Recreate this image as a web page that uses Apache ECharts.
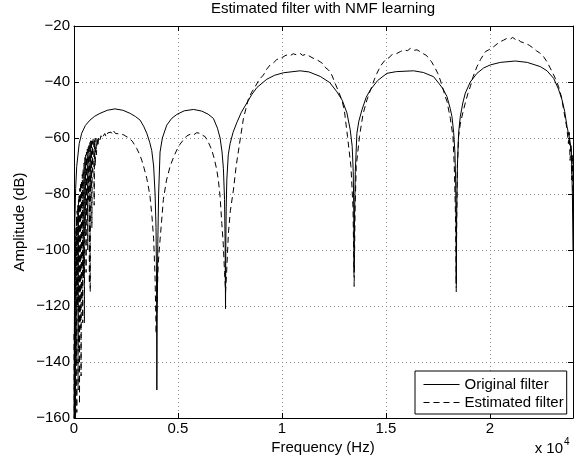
<!DOCTYPE html>
<html>
<head>
<meta charset="utf-8">
<script src="https://cdn.jsdelivr.net/npm/echarts@6/dist/echarts.min.js"></script>
<style>
html,body{margin:0;padding:0;background:#fff;}
#chart{width:585px;height:463px;}
</style>
</head>
<body>
<div id="chart"></div>
<script>
// ---- Data (frequency in Hz, amplitude in dB) ----
const titleText = "Estimated filter with NMF learning";
const xTicks = [0, 5000, 10000, 15000, 20000];
const yTicks = [-160, -140, -120, -100, -80, -60, -40, -20];
const seriesNames = ["Original filter", "Estimated filter"];

const originalFilter = [
[0,-160],[40,-90],[80,-78],[130,-70.2],[250,-62],[371,-58.3],[550,-55.5],[770,-53.6],[1000,-52.2],[1251,-51.2],[1600,-50.1],[1973,-49.6],[2350,-50.1],[2700,-51.2],[2950,-52.3],[3177,-53.6],[3350,-55.8],[3499,-58.3],[3640,-61.5],[3740,-64.5],[3830,-70],[3900,-80],[3945,-92],[3970,-110],[3984,-150],
[4000,-125],[4030,-98],[4070,-80],[4139,-65],[4250,-60],[4462,-55.4],[4700,-53],[4943,-51.6],[5300,-50.3],[5750,-49.8],[6150,-50.4],[6450,-51.5],[6705,-53],[6900,-56.5],[7027,-60],[7120,-65],[7186,-71],[7240,-82],[7270,-98],[7288,-121],
[7300,-100],[7320,-85],[7350,-75],[7420,-66],[7508,-62],[7650,-58],[7831,-54.5],[8050,-50.8],[8312,-47.5],[8550,-44.5],[8793,-42],[9275,-39],[9650,-37.6],[10074,-36.7],[10877,-36],[11300,-36.4],[11840,-38],[12300,-40.2],[12644,-43.5],[12900,-46.5],[13125,-51],[13284,-57],[13380,-63],[13430,-72],[13455,-85],[13472,-108],
[13490,-90],[13530,-72],[13606,-58.3],[13700,-54],[13847,-50],[14050,-45.5],[14246,-42.9],[14600,-39.5],[15050,-36.9],[15500,-36.3],[16330,-36],[16800,-36.6],[17293,-38.1],[17550,-40.5],[17750,-42.5],[17938,-45.2],[18096,-49.5],[18179,-52.4],[18260,-58],[18320,-65],[18355,-75],[18375,-90],[18385,-112],
[18400,-90],[18440,-70],[18500,-58],[18578,-52.4],[18700,-47.5],[18819,-44],[19059,-40],[19382,-36.9],[19699,-35],[20022,-33.9],[20503,-33],[21225,-32.5],[21800,-33],[22428,-34.5],[22750,-36],[23069,-38.7],[23300,-42.5],[23473,-46.4],[23600,-50.5],[23714,-56],[23830,-60],[23921,-64.3],[23970,-80],[24000,-100]
];

const estimatedFilter = [
[0,-130],[15,-160],[30,-100],[45,-155],[60,-95],[75,-160],[90,-92],[105,-140],[120,-88],[135,-158],[150,-86],[165,-120],[180,-84],[200,-150],[215,-82],[230,-135],[250,-80],[265,-155],[280,-78],[300,-128],[320,-76],[340,-145],[360,-75],[380,-118],[400,-73],[420,-126],[440,-71],[460,-110],[480,-69],[500,-126],[520,-67],[540,-95],[560,-66],[580,-108],[600,-65],[620,-88],[640,-64],[660,-100],[680,-63],[700,-82],[720,-62],[740,-112],[760,-61.5],[780,-115],[800,-61],[820,-78],[840,-60.5],[860,-92],[880,-61],[900,-72],[920,-60],[950,-61],[970,-84],[990,-60.5],[1020,-70],[1050,-60],[1080,-66],[1110,-59.8],[1150,-63],[1190,-59.5],
[1250,-60.6],[1300,-59.2],[1350,-60.1],[1410,-59.3],[1480,-58.4],[1550,-59.6],[1620,-58.2],[1700,-58.9],[1780,-57.9],[1850,-58.7],[1920,-57.6],[2000,-58.4],[2080,-57.7],[2150,-58.5],[2214,-57.9],[2300,-58.7],[2400,-58.9],[2500,-59.4],[2600,-59.8],[2695,-60.3],[2800,-61.1],[2900,-62.3],[3018,-63.7],[3150,-65.8],[3258,-67.9],[3380,-71],[3499,-74.4],[3580,-77.5],[3658,-81],[3750,-88],[3830,-96],[3900,-110],[3950,-130],[3990,-120],[4050,-105],[4139,-96.4],[4298,-82],[4450,-75],[4620,-70.2],[4780,-67],[4943,-64.3],[5100,-62.2],[5261,-60.7],[5420,-59.3],[5600,-58.6],[5750,-58.9],[5906,-58.1],[6000,-58.7],[6100,-58.4],[6200,-59.1],[6305,-59.5],[6450,-61.3],[6627,-64.3],[6750,-67.5],[6868,-71.4],[6950,-75.5],[7027,-81],[7109,-90.5],[7180,-98],[7240,-108],[7290,-115],[7340,-108],[7390,-100],[7426,-94],[7520,-86],[7667,-78.6],[7800,-70],[7989,-60.7],[8150,-53],[8389,-46],[8550,-43.6],[8711,-41.7],[8900,-39.2],[9111,-37.5],[9270,-35.4],[9433,-33.9],[9600,-33.1],[9750,-32],[9915,-31.5],[10050,-31.1],[10200,-30.4],[10396,-30.6],[10550,-29.9],[10700,-30.3],[10877,-29.8],[11000,-30.5],[11150,-30.1],[11358,-30.9],[11500,-31.5],[11650,-31.9],[11840,-32.8],[12000,-33.6],[12100,-34.9],[12240,-35.7],[12400,-37.5],[12562,-40.5],[12700,-43],[12884,-46.4],[13000,-50],[13156,-59.5],[13320,-70.2],[13420,-85],[13475,-113],[13520,-85],[13573,-70.2],[13731,-59.5],[13900,-51.5],[14088,-46.4],[14328,-41.5],[14450,-39],[14569,-36.9],[14750,-34.2],[14968,-32.1],[15150,-31.3],[15300,-30.2],[15531,-29.8],[15700,-29.1],[15900,-28.6],[16050,-28.8],[16172,-28],[16350,-28.7],[16500,-28.5],[16653,-29.2],[16800,-29.9],[16950,-30.5],[17052,-31.5],[17200,-32.8],[17375,-35.1],[17500,-37],[17616,-39.3],[17750,-42.5],[17856,-45.2],[17938,-46.9],[18100,-53],[18227,-59.5],[18290,-70],[18350,-88],[18385,-115],[18410,-88],[18440,-70],[18497,-59.5],[18578,-55],[18700,-51],[18819,-47.5],[18950,-44],[19059,-41.7],[19200,-38],[19382,-34.5],[19550,-32],[19781,-29.2],[19950,-28.5],[20181,-27.4],[20350,-26.4],[20500,-25.6],[20650,-25.1],[20826,-24.4],[20903,-23.8],[21000,-24.6],[21100,-24.1],[21250,-24.9],[21350,-24.6],[21466,-25.6],[21600,-25.9],[21750,-26.3],[21900,-26.9],[22106,-28],[22250,-28.9],[22400,-29.6],[22588,-31],[22750,-32.8],[22992,-36.3],[23150,-38.7],[23310,-41.7],[23450,-45.5],[23550,-50],[23650,-54],[23714,-57.1],[23780,-62],[23820,-58],[23860,-68],[23900,-62],[23940,-75],[23970,-66],[24000,-88]
];

// ---- Chart ----
const FONT = '"Liberation Sans", Arial, Helvetica, sans-serif';
const FS = 15;
const chart = echarts.init(document.getElementById('chart'), null, {renderer: 'canvas'});

const gridLine = {show: true, lineStyle: {color: '#8a8a8a', width: 1, type: [1, 3]}};
const xMin = 0, xMax = 24000, yMin = -160, yMax = -20;

const option = {
  backgroundColor: '#fff',
  animation: false,
  grid: {left: 74, right: 12, top: 26, bottom: 45, containLabel: false},
  xAxis: [{
    type: 'value', min: xMin, max: xMax, interval: xTicks[1] - xTicks[0],
    axisLine: {show: true, onZero: false, lineStyle: {color: '#000', width: 1}},
    axisTick: {show: true, inside: true, length: 5, lineStyle: {color: '#000'}},
    axisLabel: {show: true, margin: 3, color: '#000', fontFamily: FONT, fontSize: FS,
      showMaxLabel: false,
      formatter: v => (xTicks.indexOf(v) >= 0 ? String(v / 10000) : '')},
    splitLine: gridLine
  }, {
    type: 'value', min: xMin, max: xMax, interval: xTicks[1] - xTicks[0], position: 'top',
    axisLine: {show: true, onZero: false, lineStyle: {color: '#000', width: 1}},
    axisTick: {show: true, inside: true, length: 5, lineStyle: {color: '#000'}},
    axisLabel: {show: false}, splitLine: {show: false}
  }],
  yAxis: [{
    type: 'value', min: yMin, max: yMax, interval: yTicks[1] - yTicks[0],
    axisLine: {show: true, onZero: false, lineStyle: {color: '#000', width: 1}},
    axisTick: {show: true, inside: true, length: 5, lineStyle: {color: '#000'}},
    axisLabel: {show: true, margin: 4, color: '#000', fontFamily: FONT, fontSize: FS,
      formatter: v => String(v).replace('-', '\u2212')},
    splitLine: gridLine
  }, {
    type: 'value', min: yMin, max: yMax, interval: yTicks[1] - yTicks[0], position: 'right',
    axisLine: {show: true, onZero: false, lineStyle: {color: '#000', width: 1}},
    axisTick: {show: true, inside: true, length: 5, lineStyle: {color: '#000'}},
    axisLabel: {show: false}, splitLine: {show: false}
  }],
  legend: {
    show: true, orient: 'vertical', left: 415, top: 371,
    padding: [6, 3, 4, 8], itemGap: 3, itemWidth: 36, itemHeight: 15,
    backgroundColor: '#fff', borderColor: '#000', borderWidth: 1, borderRadius: 0,
    itemStyle: {opacity: 0},
    lineStyle: {width: 1, color: '#000'},
    textStyle: {color: '#000', fontFamily: FONT, fontSize: FS},
    data: seriesNames
  },
  series: [{
    name: seriesNames[0], type: 'line', xAxisIndex: 0, yAxisIndex: 0,
    data: originalFilter, showSymbol: false, symbol: 'none',
    lineStyle: {color: '#000', width: 1, type: 'solid'}, itemStyle: {color: '#000'},
    z: 3
  }, {
    name: seriesNames[1], type: 'line', xAxisIndex: 0, yAxisIndex: 0,
    data: estimatedFilter, showSymbol: false, symbol: 'none',
    lineStyle: {color: '#000', width: 1, type: [6, 4]}, itemStyle: {color: '#000'},
    z: 2
  }],
  graphic: [
    {type: 'text', x: 323, y: 9, style: {text: titleText, fill: '#000', font: FS + 'px ' + FONT, align: 'center', verticalAlign: 'middle'}},
    {type: 'text', x: 20, y: 222, rotation: Math.PI / 2, style: {text: 'Amplitude (dB)', fill: '#000', font: FS + 'px ' + FONT, align: 'center', verticalAlign: 'middle'}},
    {type: 'text', x: 323, y: 448, style: {text: 'Frequency (Hz)', fill: '#000', font: FS + 'px ' + FONT, align: 'center', verticalAlign: 'middle'}},
    {type: 'text', x: 563, y: 449, style: {text: 'x 10', fill: '#000', font: FS + 'px ' + FONT, align: 'right', verticalAlign: 'middle'}},
    {type: 'text', x: 564, y: 442, style: {text: '4', fill: '#000', font: '10px ' + FONT, align: 'left', verticalAlign: 'middle'}}
  ]
};
chart.setOption(option);
</script>
</body>
</html>
